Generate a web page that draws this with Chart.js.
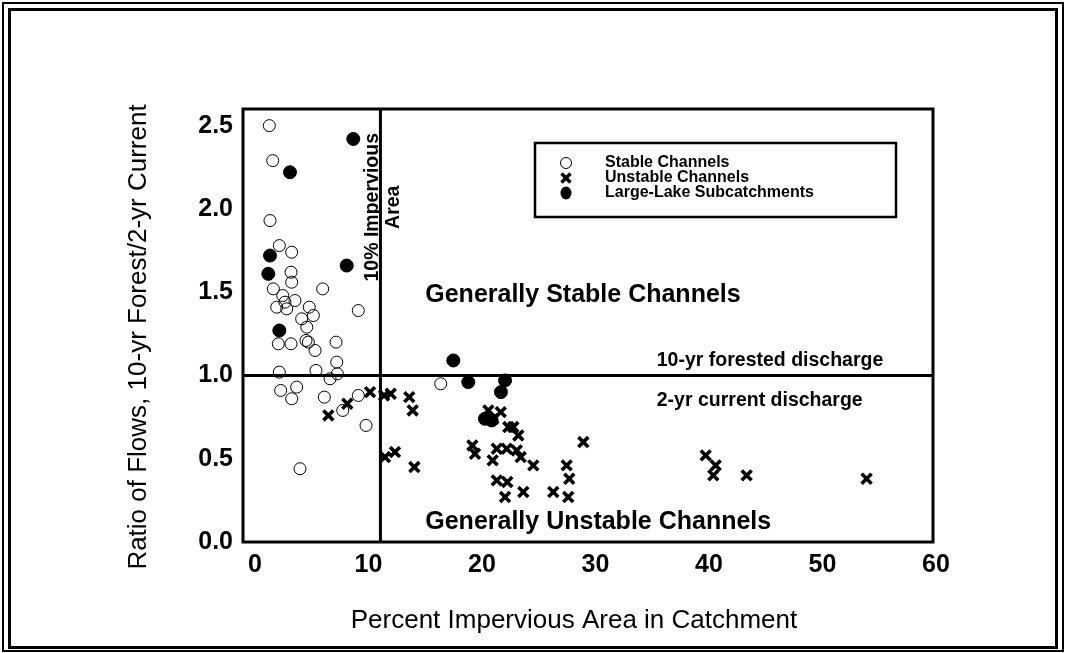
<!DOCTYPE html>
<html>
<head>
<meta charset="utf-8">
<script src="https://cdn.jsdelivr.net/npm/chart.js@4.4.1/dist/chart.umd.min.js"></script>
<style>
  html, body { margin: 0; padding: 0; background: #fff; }
  canvas { display: block; }
</style>
</head>
<body>
<canvas id="grafiek" width="1066" height="653"></canvas>
<script>
// stabiele kanalen (open cirkels)
const stableX = [1.26, 1.56, 1.32, 2.14, 3.23, 3.17, 3.23, 1.61, 2.44, 5.96, 3.52, 1.91, 2.79, 2.64, 4.78, 5.14, 4.11, 9.10, 4.56, 2.05,
                 3.17, 4.49, 4.70, 5.29, 7.14, 7.20, 5.37, 7.25, 6.61, 2.14, 2.26, 3.67, 3.23, 6.11, 9.10, 7.73, 9.78, 3.96, 16.36];
const stableY = [2.50, 2.29, 1.93, 1.78, 1.74, 1.62, 1.56, 1.52, 1.48, 1.52, 1.45, 1.41, 1.40, 1.44, 1.41, 1.36, 1.34, 1.39, 1.29, 1.19,
                 1.19, 1.21, 1.20, 1.15, 1.20, 1.08, 1.03, 1.01, 0.98, 1.02, 0.91, 0.93, 0.86, 0.87, 0.88, 0.79, 0.70, 0.44, 0.95];

// instabiele kanalen (x)
const unstableX = [6.46, 8.13, 10.13, 11.37, 11.96, 13.59, 13.89, 11.45, 12.33, 14.04, 20.56, 21.65, 22.32, 22.76, 23.20, 19.15, 19.38,
                   21.30, 22.18, 23.06, 23.41, 20.94, 24.52, 27.46, 28.93, 21.30, 22.23, 22.03, 23.64, 26.28, 27.69, 27.60,
                   39.71, 40.59, 40.38, 43.32, 53.89, 21.00];
const unstableY = [0.76, 0.83, 0.90, 0.88, 0.89, 0.87, 0.79, 0.51, 0.54, 0.45, 0.79, 0.78, 0.69, 0.69, 0.64, 0.58, 0.53,
                   0.56, 0.56, 0.55, 0.51, 0.49, 0.46, 0.46, 0.60, 0.37, 0.36, 0.27, 0.30, 0.30, 0.38, 0.27,
                   0.52, 0.46, 0.40, 0.40, 0.38, 0.74];

// grote-meer deelstroomgebieden (gevulde cirkels)
const lakeX = [8.66, 3.08, 1.32, 8.08, 1.17, 2.14, 17.47, 18.79, 22.03, 21.67, 20.26, 20.85];
const lakeY = [2.42, 2.22, 1.72, 1.66, 1.61, 1.27, 1.09, 0.96, 0.97, 0.90, 0.74, 0.73];

const xTicks = [0, 10, 20, 30, 40, 50, 60];
const yTicks = [0, 0.5, 1.0, 1.5, 2.0, 2.5];

const drempelImpervious = 11.05;   // 10% impervious lijn
const drempelRatio = 1.0;          // 10-yr forest = 2-yr current

const FONT = '"Liberation Sans", Arial, sans-serif';

function punten(xs, ys) {
    return xs.map((x, i) => ({ x: x, y: ys[i] }));
}

const decoratie = {
    id: 'decoratie',
    beforeDraw(chart) {
        const ctx = chart.ctx;
        ctx.save();
        ctx.fillStyle = '#fff';
        ctx.fillRect(0, 0, chart.width, chart.height);
        ctx.strokeStyle = '#000';
        ctx.lineWidth = 2;
        ctx.strokeRect(3, 3, chart.width - 6, chart.height - 5);
        ctx.lineWidth = 3;
        ctx.strokeRect(9.5, 9.5, chart.width - 19, chart.height - 15);
        ctx.restore();
    },
    beforeDatasetsDraw(chart) {
        const ctx = chart.ctx;
        const a = chart.chartArea;
        const sx = chart.scales.x, sy = chart.scales.y;
        ctx.save();
        ctx.strokeStyle = '#000';
        ctx.lineWidth = 3;
        ctx.strokeRect(a.left, a.top, a.right - a.left, a.bottom - a.top);

        const lx = sx.getPixelForValue(drempelImpervious);
        const ly = sy.getPixelForValue(drempelRatio);
        ctx.beginPath();
        ctx.moveTo(lx, a.top); ctx.lineTo(lx, a.bottom);
        ctx.moveTo(a.left, ly); ctx.lineTo(a.right, ly);
        ctx.stroke();

        ctx.fillStyle = '#000';
        ctx.textAlign = 'left';
        ctx.textBaseline = 'middle';
        ctx.font = 'bold 25px ' + FONT;
        ctx.fillText('Generally Stable Channels', sx.getPixelForValue(15), sy.getPixelForValue(1.48));
        ctx.fillText('Generally Unstable Channels', sx.getPixelForValue(15), sy.getPixelForValue(0.12));
        ctx.font = 'bold 19.5px ' + FONT;
        ctx.fillText('10-yr forested discharge', sx.getPixelForValue(35.4), sy.getPixelForValue(1.09));
        ctx.fillText('2-yr current discharge', sx.getPixelForValue(35.4), sy.getPixelForValue(0.85));

        // verticale tekst bij de 10% lijn
        ctx.translate(lx, sy.getPixelForValue(2.01));
        ctx.rotate(-Math.PI / 2);
        ctx.textAlign = 'center';
        ctx.textBaseline = 'alphabetic';
        ctx.fillText('10% Impervious', 0, -2.5);
        ctx.fillText('Area', 0, 19);
        ctx.restore();
    },
    afterDraw(chart) {
        const ctx = chart.ctx;
        ctx.save();
        ctx.fillStyle = '#000';
        ctx.strokeStyle = '#000';

        // legenda
        ctx.lineWidth = 2.5;
        ctx.strokeRect(535, 143, 361, 74);
        const rijen = [163, 178, 193];
        const mx = 566;
        ctx.lineWidth = 1;
        ctx.beginPath(); ctx.arc(mx, rijen[0], 5.5, 0, Math.PI * 2); ctx.stroke();
        ctx.lineWidth = 3.5;
        ctx.beginPath();
        ctx.moveTo(mx - 4.5, rijen[1] - 4.5); ctx.lineTo(mx + 4.5, rijen[1] + 4.5);
        ctx.moveTo(mx + 4.5, rijen[1] - 4.5); ctx.lineTo(mx - 4.5, rijen[1] + 4.5);
        ctx.stroke();
        ctx.beginPath(); ctx.ellipse(mx, rijen[2], 5.5, 6.5, 0, 0, Math.PI * 2); ctx.fill();
        ctx.font = 'bold 16px ' + FONT;
        ctx.textAlign = 'left';
        ctx.textBaseline = 'middle';
        const labels = ['Stable Channels', 'Unstable Channels', 'Large-Lake Subcatchments'];
        labels.forEach((t, i) => ctx.fillText(t, 605, rijen[i]));

        // astitels
        ctx.font = '26px ' + FONT;
        ctx.textAlign = 'center';
        ctx.fillText('Percent Impervious Area in Catchment', 574, 621);
        ctx.translate(139, 337);
        ctx.rotate(-Math.PI / 2);
        ctx.fillText('Ratio of Flows, 10-yr Forest/2-yr Current', 0, 0);
        ctx.restore();
    }
};

new Chart(document.getElementById('grafiek'), {
    type: 'scatter',
    data: {
        datasets: [
            {
                label: 'Large-Lake Subcatchments',
                data: punten(lakeX, lakeY),
                pointStyle: 'circle',
                pointRadius: 6.5,
                backgroundColor: '#000',
                borderColor: '#000',
                borderWidth: 1
            },
            {
                label: 'Unstable Channels',
                data: punten(unstableX, unstableY),
                pointStyle: 'crossRot',
                pointRadius: 7,
                borderColor: '#000',
                borderWidth: 3.6
            },
            {
                label: 'Stable Channels',
                data: punten(stableX, stableY),
                pointStyle: 'circle',
                pointRadius: 6,
                backgroundColor: 'rgba(0,0,0,0)',
                borderColor: '#000',
                borderWidth: 1
            }
        ]
    },
    options: {
        responsive: false,
        animation: false,
        devicePixelRatio: 1,
        layout: { padding: { top: 109, right: 133, left: 0, bottom: 0 } },
        plugins: {
            legend: { display: false },
            tooltip: { enabled: false }
        },
        scales: {
            x: {
                type: 'linear',
                min: -1.06,
                max: 59.74,
                grid: { display: false, drawTicks: false },
                border: { display: false },
                afterFit(s) { s.height = 111; },
                afterBuildTicks(s) { s.ticks = xTicks.map(v => ({ value: v })); },
                ticks: {
                    color: '#000',
                    padding: 8,
                    font: { family: FONT, size: 25, weight: 'bold' }
                }
            },
            y: {
                type: 'linear',
                min: 0,
                max: 2.6,
                grid: { display: false, drawTicks: false },
                border: { display: false },
                afterFit(s) { s.width = 243; },
                afterBuildTicks(s) { s.ticks = yTicks.map(v => ({ value: v })); },
                ticks: {
                    color: '#000',
                    padding: 10,
                    font: { family: FONT, size: 25, weight: 'bold' },
                    callback: v => v.toFixed(1)
                }
            }
        }
    },
    plugins: [decoratie]
});
</script>
</body>
</html>
